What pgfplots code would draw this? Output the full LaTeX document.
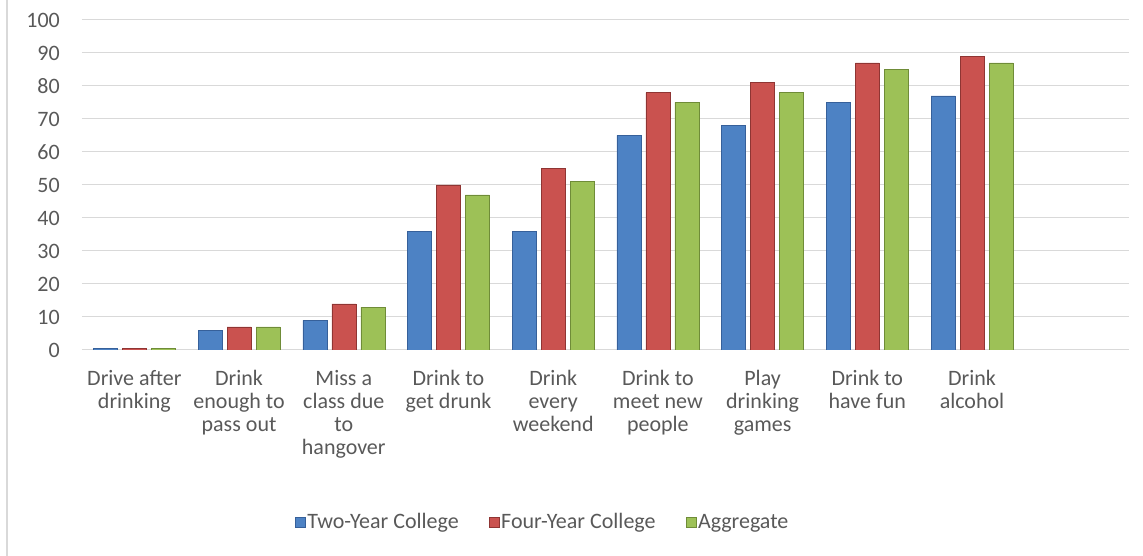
\documentclass[border=0pt]{standalone}
\usepackage{fontspec}
\setmainfont{Carlito}
\usepackage{pgfplots}
\pgfplotsset{compat=1.18}
\definecolor{txt}{HTML}{595959}
\definecolor{gridc}{HTML}{D9D9D9}
\definecolor{blueb}{HTML}{4D82C4}
\definecolor{bluee}{HTML}{36609A}
\definecolor{redb}{HTML}{CA524F}
\definecolor{rede}{HTML}{8F3533}
\definecolor{grnb}{HTML}{9DC157}
\definecolor{grne}{HTML}{6F8C38}
\begin{document}
\begin{tikzpicture}
\useasboundingbox (-82pt,-206pt) rectangle (1061pt,350pt);
\draw[gridc, line width=1.5pt] (-75pt,-206pt) -- (-75pt,350pt);
\begin{axis}[
  at={(0pt,0pt)}, anchor=south west,
  scale only axis, width=1047pt, height=330pt,
  xmin=-0.5, xmax=9.5, ymin=0, ymax=100,
  ytick={0,10,...,100},
  xtick={0,...,8},
  xticklabels={{Drive after\\drinking},{Drink\\enough to\\pass out},{Miss a\\class due\\to\\hangover},{Drink to\\get drunk},{Drink\\every\\weekend},{Drink to\\meet new\\people},{Play\\drinking\\games},{Drink to\\have fun},{Drink\\alcohol}},
  ybar=5pt, bar width=24pt,
  separate axis lines,
  axis x line*=bottom, axis y line*=left,
  y axis line style={draw=none},
  x axis line style={draw=gridc, line width=1pt, -},
  major tick length=0pt,
  ymajorgrids, grid style={draw=gridc, line width=1pt},
  /pgf/number format/assume math mode=true,
  every tick label/.append style={font=\fontsize{22}{23}\selectfont, text=txt},
  yticklabel style={inner sep=0pt, xshift=-22pt},
  xticklabel style={align=center, inner sep=0pt, yshift=-20pt},
  legend style={at={(0.44,-0.521)}, anchor=center, draw=none, fill=none,
    legend columns=3, font=\fontsize{22}{23}\selectfont, text=txt,
    /tikz/every even column/.append style={column sep=28pt}},
  legend image code/.code={\fill[#1] (0pt,-5pt) rectangle (10pt,5pt);},
]
\addplot[draw=bluee, fill=blueb] coordinates {(0,0.5) (1,6) (2,9) (3,36) (4,36) (5,65) (6,68) (7,75) (8,77)};
\addplot[draw=rede, fill=redb] coordinates {(0,0.5) (1,7) (2,14) (3,50) (4,55) (5,78) (6,81) (7,87) (8,89)};
\addplot[draw=grne, fill=grnb] coordinates {(0,0.5) (1,7) (2,13) (3,47) (4,51) (5,75) (6,78) (7,85) (8,87)};
\legend{Two-Year College, Four-Year College, Aggregate}
\end{axis}
\end{tikzpicture}
\end{document}
